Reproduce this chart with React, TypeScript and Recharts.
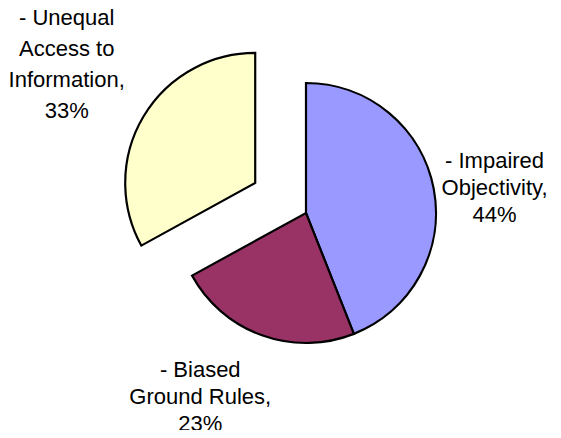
import React from 'react';
import { PieChart, Pie, Cell } from 'recharts';

// slice data, clockwise from 12 o'clock
const names = ['Impaired Objectivity', 'Biased Ground Rules', 'Unequal Access to Information'];
const values = [44, 23, 33];
const colors = ['#9999FF', '#993366', '#FFFFCC'];
// how each label wraps (last line is the percentage)
const labelLines = [
  ['- Impaired', 'Objectivity,'],
  ['- Biased', 'Ground Rules,'],
  ['- Unequal', 'Access to', 'Information,'],
];
const explodedIndex = 2;

const data = names.map((name, i) => ({ name, value: values[i] }));
const total = values.reduce((a, b) => a + b, 0);

const CX = 306;
const CY = 213;
const R = 130;
const EXPLODE = 59;
const RAD = Math.PI / 180;

// offset of the pulled-out slice, along its bisector
const startFrac = values.slice(0, explodedIndex).reduce((a, b) => a + b, 0) / total;
const midFrac = startFrac + values[explodedIndex] / total / 2;
const midAngle = 90 - 360 * midFrac;
const exCX = CX + EXPLODE * Math.cos(midAngle * RAD);
const exCY = CY - EXPLODE * Math.sin(midAngle * RAD);

// label distance from centre and small nudges
const labelDist = [192, 200, 285];
const labelNudge = [
  [0, 10],
  [-38, -5],
  [6, -4],
];
const lineH = [27, 27, 31];

const renderLabel = (props: any) => {
  const { cx, cy, midAngle: ma, index } = props;
  const d = labelDist[index];
  const x = cx + d * Math.cos(-ma * RAD) + labelNudge[index][0];
  const y = cy + d * Math.sin(-ma * RAD) + labelNudge[index][1];
  const lines = [...labelLines[index], `${Math.round((values[index] / total) * 100)}%`];
  const lh = lineH[index];
  const top = y - ((lines.length - 1) * lh) / 2;
  return (
    <text
      key={`lbl-${index}`}
      x={x}
      y={top}
      textAnchor="middle"
      dominantBaseline="central"
      fill="#000"
      fontSize={22}
      fontFamily="'Liberation Sans', Arial, sans-serif"
    >
      {lines.map((l, i) => (
        <tspan key={i} x={x} y={top + i * lh}>
          {l}
        </tspan>
      ))}
    </text>
  );
};

export default function App() {
  return (
    <div style={{ margin: -8, width: 561, height: 438, background: '#fff' }}>
      <PieChart width={561} height={438} margin={{ top: 0, right: 0, bottom: 0, left: 0 }}>
        <Pie
          data={data}
          dataKey="value"
          cx={CX}
          cy={CY}
          outerRadius={R}
          startAngle={90}
          endAngle={-270}
          isAnimationActive={false}
          label={renderLabel}
          labelLine={false}
        >
          {data.map((_, i) => (
            <Cell
              key={i}
              fill={i === explodedIndex ? 'none' : colors[i]}
              stroke={i === explodedIndex ? 'none' : '#000'}
              strokeWidth={2.2}
            />
          ))}
        </Pie>
        <Pie
          data={data}
          dataKey="value"
          cx={exCX}
          cy={exCY}
          outerRadius={R}
          startAngle={90}
          endAngle={-270}
          isAnimationActive={false}
          label={false}
          labelLine={false}
        >
          {data.map((_, i) => (
            <Cell
              key={i}
              fill={i === explodedIndex ? colors[i] : 'none'}
              stroke={i === explodedIndex ? '#000' : 'none'}
              strokeWidth={2.2}
            />
          ))}
        </Pie>
      </PieChart>
    </div>
  );
}
